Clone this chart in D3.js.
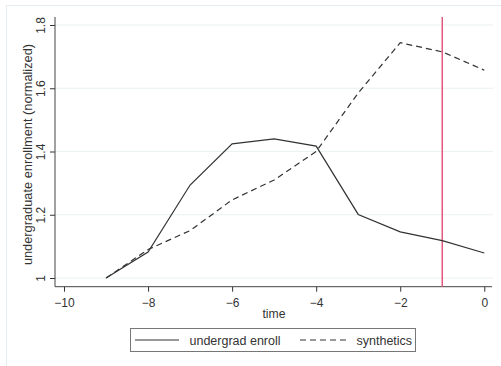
<!DOCTYPE html>
<html>
<head>
<meta charset="utf-8">
<script src="https://cdn.jsdelivr.net/npm/d3@7"></script>
<style>
  html, body { margin: 0; padding: 0; background: #fff; }
  svg { display: block; font-family: "Liberation Sans", Arial, sans-serif; }
</style>
</head>
<body>
<svg id="chart" width="501" height="366"></svg>
<script>
// Time relative to the event, undergraduate enrollment normalized to 1 at t = -9
const times = [-9, -8, -7, -6, -5, -4, -3, -2, -1, 0];
const undergradEnroll = [1.0, 1.082, 1.294, 1.424, 1.44, 1.417, 1.201, 1.146, 1.118, 1.079];
const synthetics = [1.0, 1.09, 1.15, 1.247, 1.31, 1.40, 1.585, 1.744, 1.715, 1.657];
const xTicks = [-10, -8, -6, -4, -2, 0];
const yTicks = [1, 1.2, 1.4, 1.6, 1.8];
const treatmentTime = -1;

const svg = d3.select("#chart");
const plot = { left: 55, right: 492, top: 17, bottom: 286.7 };

const x = d3.scaleLinear().domain([-10, 0]).range([64, 484.3]);
const y = d3.scaleLinear().domain([1, 1.8]).range([278, 25]);

// outer frame (top and left edges)
svg.append("path")
  .attr("d", "M6.5,366V5.5H501")
  .attr("fill", "none")
  .attr("stroke", "#e3edef")
  .attr("stroke-width", 1);

// horizontal gridlines
svg.append("g").selectAll("line").data(yTicks).join("line")
  .attr("x1", plot.left).attr("x2", plot.right + 1)
  .attr("y1", d => y(d)).attr("y2", d => y(d))
  .attr("stroke", "#eaf2f3").attr("stroke-width", 1.2);

// y axis
const yAxis = svg.append("g")
  .attr("transform", `translate(${plot.left},0)`)
  .call(d3.axisLeft(y).tickValues(yTicks).tickFormat(d3.format("")).tickSize(5).tickSizeOuter(0));
yAxis.select(".domain").remove();
yAxis.selectAll(".tick line").attr("stroke", "#333");
yAxis.selectAll(".tick text")
  .attr("fill", "#333")
  .attr("font-size", 12)
  .attr("text-anchor", "middle")
  .attr("dy", 0)
  .attr("x", 0)
  .attr("y", 0)
  .attr("transform", "translate(-10,0) rotate(-90)");

// x axis
const xAxis = svg.append("g")
  .attr("transform", `translate(0,${plot.bottom})`)
  .call(d3.axisBottom(x).tickValues(xTicks).tickFormat(d3.format("")).tickSize(5).tickSizeOuter(0));
xAxis.select(".domain").remove();
xAxis.selectAll(".tick line").attr("stroke", "#333");
xAxis.selectAll(".tick text")
  .attr("fill", "#333")
  .attr("font-size", 12)
  .attr("y", 20)
  .attr("dy", 0);

// axis lines
svg.append("line")
  .attr("x1", plot.left).attr("x2", plot.left)
  .attr("y1", plot.top).attr("y2", plot.bottom)
  .attr("stroke", "#444").attr("stroke-width", 1);
svg.append("line")
  .attr("x1", plot.left).attr("x2", plot.right)
  .attr("y1", plot.bottom).attr("y2", plot.bottom)
  .attr("stroke", "#444").attr("stroke-width", 1);

// axis titles
svg.append("text")
  .attr("transform", "translate(32,154.5) rotate(-90)")
  .attr("text-anchor", "middle")
  .attr("font-size", 12.8)
  .attr("fill", "#333")
  .text("undergraduate enrollment (normalized)");
svg.append("text")
  .attr("x", 274).attr("y", 318)
  .attr("text-anchor", "middle")
  .attr("font-size", 12.2)
  .attr("fill", "#333")
  .text("time");

// treatment marker
svg.append("line")
  .attr("x1", x(treatmentTime)).attr("x2", x(treatmentTime))
  .attr("y1", plot.top).attr("y2", plot.bottom)
  .attr("stroke", "#e0597c").attr("stroke-width", 1.5);

// series
const line = d3.line().x(d => x(d[0])).y(d => y(d[1]));
svg.append("path")
  .datum(times.map((t, i) => [t, synthetics[i]]))
  .attr("d", line)
  .attr("fill", "none")
  .attr("stroke", "#333")
  .attr("stroke-width", 1.2)
  .attr("stroke-dasharray", "6,4");
svg.append("path")
  .datum(times.map((t, i) => [t, undergradEnroll[i]]))
  .attr("d", line)
  .attr("fill", "none")
  .attr("stroke", "#333")
  .attr("stroke-width", 1.2);

// legend
const legend = svg.append("g");
legend.append("rect")
  .attr("x", 130.5).attr("y", 328.5)
  .attr("width", 285).attr("height", 23)
  .attr("fill", "#fff")
  .attr("stroke", "#777").attr("stroke-width", 1);
legend.append("line")
  .attr("x1", 135).attr("x2", 179).attr("y1", 340).attr("y2", 340)
  .attr("stroke", "#333").attr("stroke-width", 1.2);
legend.append("text")
  .attr("x", 189.5).attr("y", 344.5)
  .attr("font-size", 12.5).attr("fill", "#333")
  .text("undergrad enroll");
legend.append("line")
  .attr("x1", 300).attr("x2", 349).attr("y1", 340).attr("y2", 340)
  .attr("stroke", "#333").attr("stroke-width", 1.2)
  .attr("stroke-dasharray", "6,4");
legend.append("text")
  .attr("x", 356.5).attr("y", 344.5)
  .attr("font-size", 12.5).attr("fill", "#333")
  .text("synthetics");
</script>
</body>
</html>
